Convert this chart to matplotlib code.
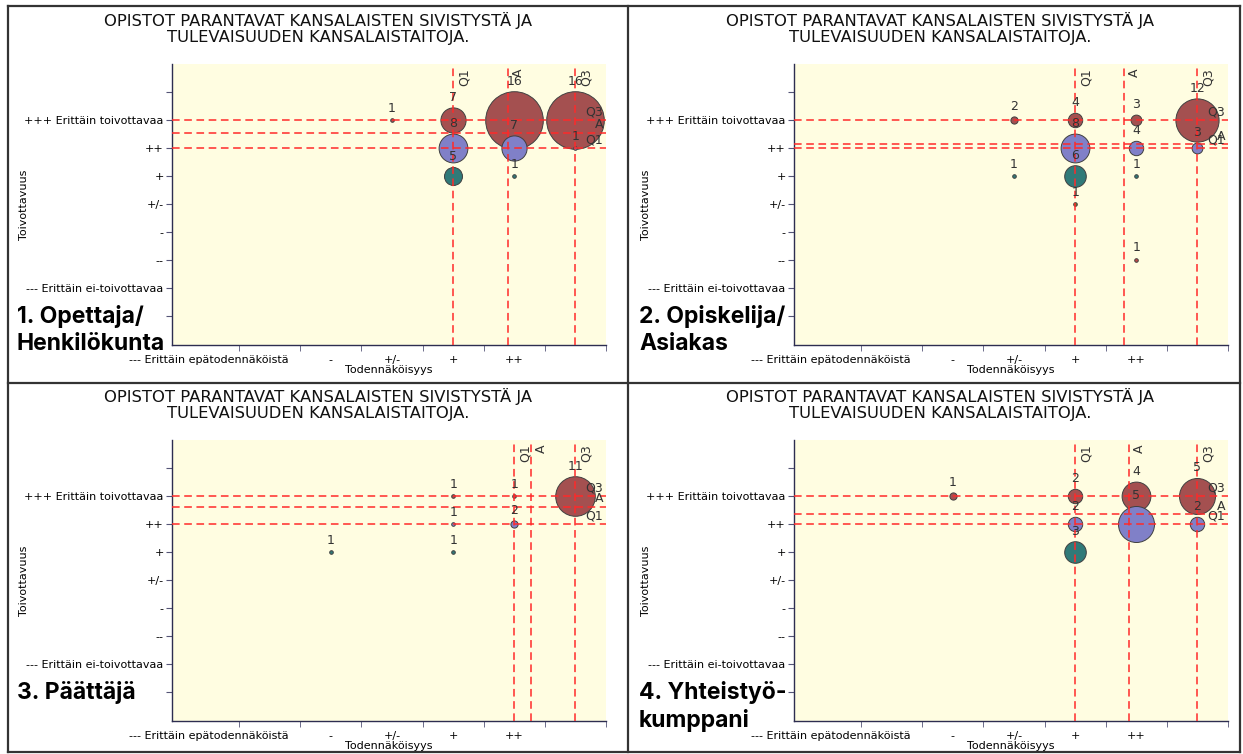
import matplotlib
matplotlib.use("Agg")
import matplotlib.pyplot as plt
from matplotlib.lines import Line2D

W, H = 1243, 754

title = "OPISTOT PARANTAVAT KANSALAISTEN SIVISTYSTÄ JA\nTULEVAISUUDEN KANSALAISTAITOJA."
levels = [-3, -2, -1, 0, 1, 2, 3]
x_labels = ["--- Erittäin epätodennäköistä", "", "-", "+/-", "+", "++", ""]
y_labels = ["", "--- Erittäin ei-toivottavaa", "--", "-", "+/-", "+", "++",
            "+++ Erittäin toivottavaa", ""]

# panel 1: Opettaja/Henkilökunta
p1_x = [0, 1, 1, 1, 2, 2, 2, 3, 3]
p1_y = [3, 3, 2, 1, 3, 2, 1, 3, 2]
p1_n = [1, 7, 8, 5, 16, 7, 1, 16, 1]
p1_vq = [1, 1.9, 3]        # Q1, A, Q3 (todennäköisyys)
p1_hq = [3, 2.55, 2]       # Q3, A, Q1 (toivottavuus)

# panel 2: Opiskelija/Asiakas
p2_x = [0, 0, 1, 1, 1, 1, 2, 2, 2, 2, 3, 3]
p2_y = [3, 1, 3, 2, 1, 0, 3, 2, 1, -2, 3, 2]
p2_n = [2, 1, 4, 8, 6, 1, 3, 4, 1, 1, 12, 3]
p2_vq = [1, 1.8, 3]
p2_hq = [3, 2.13, 2]

# panel 3: Päättäjä
p3_x = [-1, 1, 1, 1, 2, 2, 3]
p3_y = [1, 3, 2, 1, 3, 2, 3]
p3_n = [1, 1, 1, 1, 1, 2, 11]
p3_vq = [2, 2.27, 3]
p3_hq = [3, 2.62, 2]

# panel 4: Yhteistyökumppani
p4_x = [-1, 1, 1, 1, 2, 2, 3, 3]
p4_y = [3, 3, 2, 1, 3, 2, 3, 2]
p4_n = [1, 2, 2, 3, 4, 5, 5, 2]
p4_vq = [1, 1.88, 3]
p4_hq = [3, 2.35, 2]

colors = {3: "#a45050", 2: "#8080c8", 1: "#307a78", 0: "#5f7d2e", -1: "#8a6a30",
          -2: "#c04848", -3: "#803030"}

PT = 0.72  # pixels -> points at dpi 100


def fx(px):
    return px / W


def fy(py):
    return 1 - py / H


def draw_panel(ax, xs, ys, ns, vq, hq, scale):
    ax.set_facecolor("#fffde1")
    ax.set_xlim(-3.6, 3.5)
    ax.set_ylim(-5.05, 5)
    for x, y, n in zip(xs, ys, ns):
        r = scale * n
        ax.scatter(x, y, s=(2 * r * PT) ** 2, color=colors[y], edgecolor="#404040",
                   linewidth=0.7, zorder=2)
        ax.annotate(str(n), (x, y), xytext=(0, (r + 10) * PT), textcoords="offset points",
                    ha="center", va="center", fontsize=9, color="#333333", zorder=5)
    for v, lab in zip(vq, ["Q1", "A", "Q3"]):
        ax.axvline(v, color="#ff2a2a", ls=(0, (5, 3)), lw=1.1, zorder=3)
        ax.annotate(lab, (v, 1), xycoords=("data", "axes fraction"), xytext=(3, -3),
                    textcoords="offset points", rotation=90, ha="left", va="top",
                    fontsize=9, color="#333333", zorder=5)
    for h, lab in zip(hq, ["Q3", "A", "Q1"]):
        ax.axhline(h, color="#ff2a2a", ls=(0, (5, 3)), lw=1.1, zorder=3)
        ax.annotate(lab, (1, h), xycoords=("axes fraction", "data"), xytext=(-2, 1),
                    textcoords="offset points", ha="right", va="bottom",
                    fontsize=9, color="#333333", zorder=5)

    ax.set_xticks(levels)
    ax.set_xticklabels(x_labels, fontsize=8)
    ax.set_xticks([-2.5, -1.5, -0.5, 0.5, 1.5, 2.5, 3.5], minor=True)
    ax.tick_params(axis="x", which="major", length=0, pad=7)
    ax.tick_params(axis="x", which="minor", length=4, color="#555577")
    ax.set_yticks(range(-4, 5))
    ax.set_yticklabels(y_labels, fontsize=8)
    ax.tick_params(axis="y", length=4, pad=2, color="#555577")
    for s in ["top", "right"]:
        ax.spines[s].set_visible(False)
    for s in ["left", "bottom"]:
        ax.spines[s].set_color("#2d2d50")
        ax.spines[s].set_linewidth(1.0)
    ax.set_xlabel("Todennäköisyys", fontsize=8, labelpad=0)
    ax.set_ylabel("Toivottavuus", fontsize=8)
    ax.yaxis.set_label_coords(-0.33, 0.5)


fig = plt.figure(figsize=(W / 100, H / 100), dpi=100)

panels = [
    (p1_x, p1_y, p1_n, p1_vq, p1_hq, 1.8, 0, 0, "1. Opettaja/\nHenkilökunta"),
    (p2_x, p2_y, p2_n, p2_vq, p2_hq, 1.8, 622, 0, "2. Opiskelija/\nAsiakas"),
    (p3_x, p3_y, p3_n, p3_vq, p3_hq, 1.8, 0, 376, "3. Päättäjä"),
    (p4_x, p4_y, p4_n, p4_vq, p4_hq, 3.6, 622, 376, "4. Yhteistyö-\nkumppani"),
]

for xs, ys, ns, vq, hq, scale, dx, dy, name in panels:
    left, right, top, bottom = 172 + dx, 606 + dx, 64 + dy, 345 + dy
    ax = fig.add_axes([fx(left), fy(bottom), (right - left) / W, (bottom - top) / H])
    draw_panel(ax, xs, ys, ns, vq, hq, scale)
    fig.text(fx(318 + dx), fy(28.5 + dy), title, ha="center", va="center",
             fontsize=11.8, color="#111111", linespacing=1.05)
    fig.text(fx(17 + dx), fy(305 + dy), name, ha="left", va="top", fontsize=16.5,
             family=["Inter", "Roboto", "DejaVu Sans"], weight="bold", color="#000000",
             linespacing=1.3)

# panel frames
frame = dict(color="#333333", lw=1.6, transform=fig.transFigure)
fig.add_artist(Line2D([fx(8), fx(1240)], [fy(6), fy(6)], **frame))
fig.add_artist(Line2D([fx(8), fx(1240)], [fy(383), fy(383)], **frame))
fig.add_artist(Line2D([fx(8), fx(1240)], [fy(752), fy(752)], **frame))
fig.add_artist(Line2D([fx(8), fx(8)], [fy(6), fy(752)], **frame))
fig.add_artist(Line2D([fx(628), fx(628)], [fy(6), fy(752)], **frame))
fig.add_artist(Line2D([fx(1240), fx(1240)], [fy(6), fy(752)], **frame))

fig.savefig("out.png", dpi=100, facecolor="white")
